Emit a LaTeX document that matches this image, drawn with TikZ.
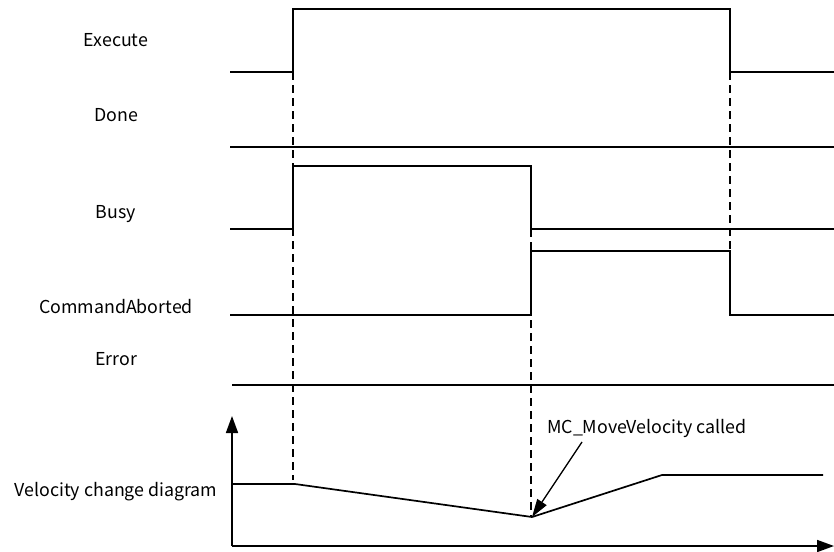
\documentclass[tikz,border=0pt]{standalone}
\usepackage{fontspec}
\setmainfont{Noto Sans CJK SC}
\usetikzlibrary{arrows.meta}
\begin{document}
\begin{tikzpicture}[x=1pt,y=-1pt,
  sig/.style={line width=1.7pt, line join=miter},
  guide/.style={line width=1.3pt, dash pattern=on 8pt off 5pt},
  lbl/.style={font=\fontsize{17.8}{20}\selectfont, inner sep=0pt},
  axis/.style={line width=1.7pt, -{Triangle[length=17pt,width=12pt]}}]
\useasboundingbox (0,0) rectangle (834,551);
% labels
\node[lbl] (lexe) at (116,40) {Execute};
\node[lbl] (ldone) at (116,115) {Done};
\node[lbl] (lbusy) at (116,214) {Busy};
\node[lbl] (lca) at (116,307) {CommandAborted};
\node[lbl] (lerr) at (116,359) {Error};
\node[lbl] (lvel) at (116,492) {Velocity change diagram};
% guides
\draw[guide] (293,72) -- (293,480);
\draw[guide] (531,229) -- (531,517);
\draw[guide] (730,72) -- (730,251);
% signals
\draw[sig] (230,72) -- (293,72) -- (293,9) -- (730,9) -- (730,72) -- (834,72);
\draw[sig] (230,147) -- (834,147);
\draw[sig] (230,229) -- (293,229) -- (293,166) -- (531,166) -- (531,229) -- (834,229);
\draw[sig] (230,315) -- (531,315) -- (531,251) -- (730,251) -- (730,315) -- (834,315);
\draw[sig] (232,385) -- (834,385);
% velocity axes
\coordinate (o) at (232,546);
\coordinate (ytip) at (232,416);
\coordinate (xtip) at (834,546);
\draw[axis] (o) -- (ytip);
\draw[axis] (o) -- (xtip);
% velocity profile
\coordinate (v0) at (232,484);
\coordinate (v1) at (295,484);
\coordinate (vmin) at (532,517);
\coordinate (v2) at (662,475);
\coordinate (v3) at (823,475);
\draw[sig] (v0) -- (v1) -- (vmin) -- (v2) -- (v3);
% callout
\node[lbl, anchor=west] (call) at (547,428) {MC\_MoveVelocity called};
\coordinate (cstart) at (582,442);
\draw[line width=1.3pt, -{Triangle[length=18pt,width=11pt]}] (cstart) -- (vmin);
\end{tikzpicture}
\end{document}
